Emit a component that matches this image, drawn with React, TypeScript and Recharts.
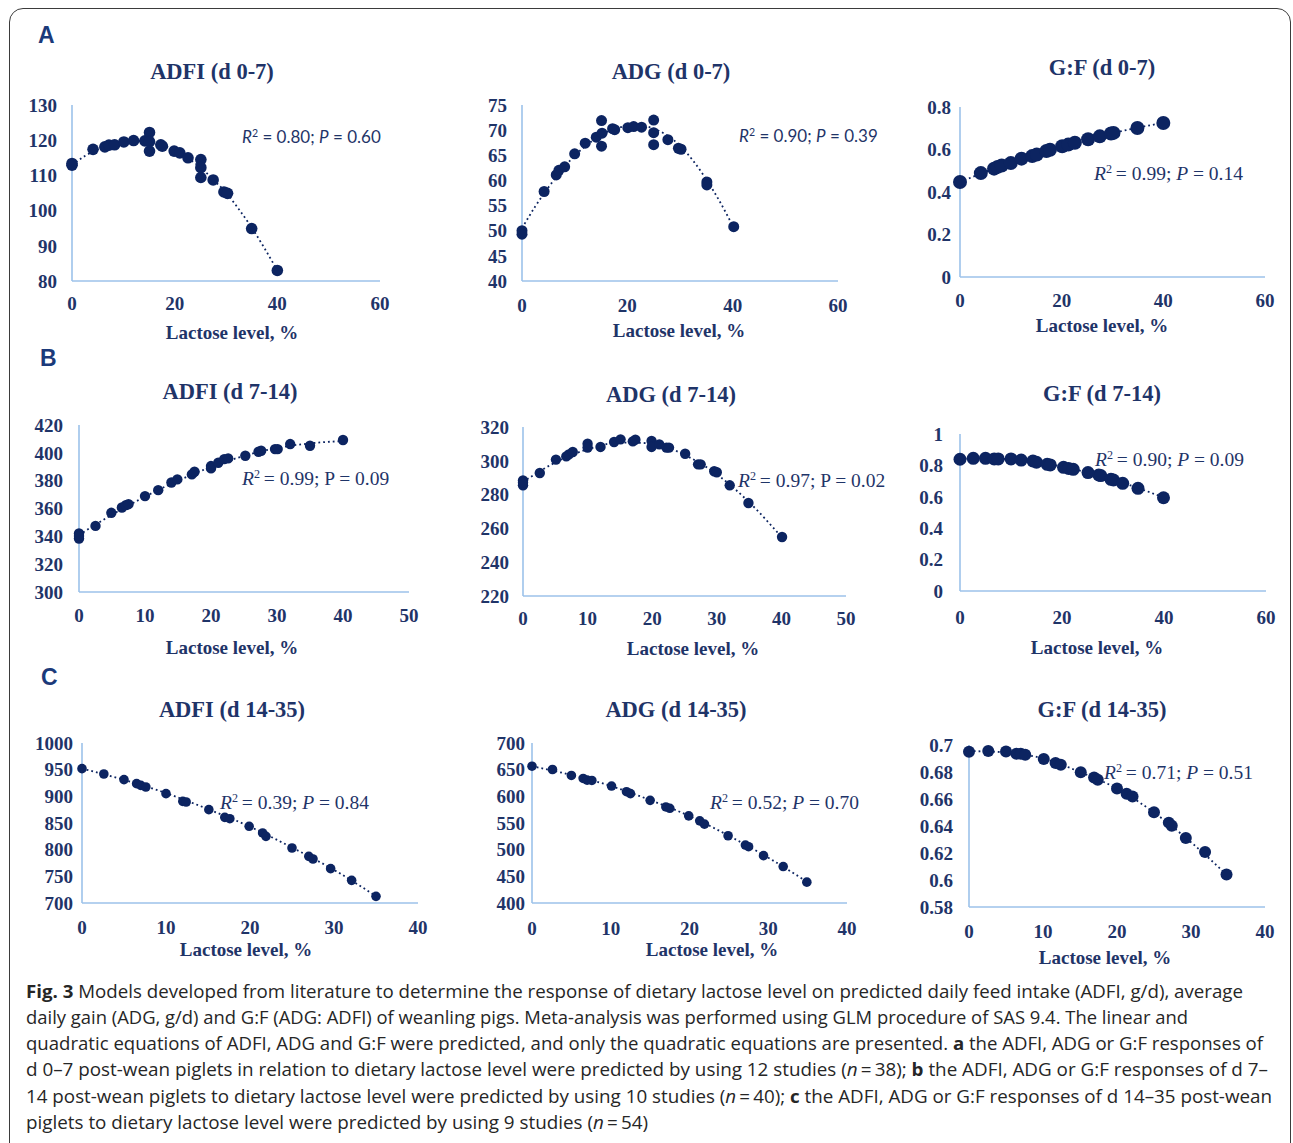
import React from "react";
import { ScatterChart, Scatter, XAxis, YAxis } from "recharts";

// ---- data (lactose %, response) ----
const adfi07Lactose = [0, 0, 4.1, 6.4, 7.2, 8.3, 10.1, 12.0, 14.2, 15.1, 15.1, 15.1, 17.3, 17.6, 19.9, 21.0, 22.6, 25.1, 25.1, 25.1, 27.5, 29.6, 30.3, 35.0, 40.0];
const adfi07Values = [112.9, 113.4, 117.4, 118.1, 118.6, 118.7, 119.5, 119.9, 119.8, 122.2, 119.6, 116.9, 118.7, 118.3, 116.9, 116.4, 115.0, 114.5, 112.2, 109.4, 108.7, 105.3, 104.9, 94.9, 83.0];
const adfi07FitLactose = [0, 2.5, 5, 7.5, 10, 12.5, 15, 17.5, 20, 22.5, 25, 27.5, 30, 32.5, 35, 37.5, 40];
const adfi07FitValues = [113.0, 115.5, 117.4, 118.7, 119.5, 119.8, 119.6, 118.6, 117.0, 114.9, 112.3, 108.8, 105.1, 100.4, 95.2, 89.3, 83.0];

const adg07Lactose = [0, 0, 4.2, 6.5, 7.0, 8.1, 10.0, 12.0, 14.1, 15.1, 15.2, 15.1, 17.2, 17.6, 20.1, 21.2, 22.7, 25.0, 25.0, 25.0, 27.7, 29.7, 30.2, 35.1, 35.1, 40.2];
const adg07Values = [50.0, 49.3, 57.8, 61.1, 62.0, 62.7, 65.3, 67.4, 68.6, 71.9, 69.4, 66.8, 70.3, 70.1, 70.5, 70.7, 70.6, 72.0, 69.5, 67.1, 68.1, 66.4, 66.2, 59.7, 59.1, 50.8];
const adg07FitLactose = [0, 2.5, 5, 7.5, 10, 12.5, 15, 17.5, 20, 22.5, 25, 27.5, 30, 32.5, 35, 37.5, 40];
const adg07FitValues = [50.5, 54.8, 58.6, 62.0, 64.9, 67.2, 69.0, 70.2, 70.8, 70.9, 70.3, 69.0, 66.9, 63.9, 60.2, 55.9, 51.0];

const gf07Lactose = [0, 4.1, 6.7, 7.4, 8.2, 10.0, 12.1, 14.2, 15.1, 17.0, 17.7, 20.1, 21.3, 22.6, 25.2, 27.5, 29.7, 30.2, 34.9, 40.0];
const gf07Values = [0.447, 0.489, 0.51, 0.518, 0.525, 0.536, 0.557, 0.569, 0.576, 0.593, 0.599, 0.615, 0.623, 0.632, 0.648, 0.662, 0.675, 0.678, 0.701, 0.725];
const gf07FitLactose = [0, 5, 10, 15, 20, 25, 30, 35, 40];
const gf07FitValues = [0.447, 0.495, 0.54, 0.579, 0.615, 0.648, 0.677, 0.703, 0.725];

const adfi714Lactose = [0, 0, 0, 2.5, 4.9, 6.5, 7.1, 7.5, 10.0, 12.0, 14.0, 14.9, 17.1, 17.5, 20.0, 20.0, 21.1, 22.0, 22.6, 25.2, 27.2, 27.6, 29.7, 30.1, 32.0, 35.0, 40.0];
const adfi714Values = [342.0, 338.4, 340.3, 347.5, 356.9, 360.7, 362.4, 363.1, 368.9, 373.2, 378.7, 380.9, 384.5, 386.4, 390.5, 388.8, 392.9, 395.5, 396.0, 397.9, 400.8, 401.5, 402.7, 402.7, 406.3, 405.1, 409.2];
const adfi714FitLactose = [0, 5, 10, 15, 20, 25, 30, 35, 40];
const adfi714FitValues = [341.0, 355.5, 368.5, 380.0, 389.8, 397.8, 403.5, 406.8, 408.5];

const adg714Lactose = [0, 0, 0, 2.6, 5.1, 6.7, 7.1, 7.7, 10.0, 10.0, 12.0, 14.1, 15.1, 17.0, 17.4, 19.9, 19.9, 21.1, 22.2, 22.6, 25.1, 27.1, 27.5, 29.6, 30.0, 32.0, 34.9, 40.1];
const adg714Values = [288.4, 285.5, 287.0, 292.8, 300.7, 302.6, 303.8, 305.2, 310.1, 307.8, 308.2, 311.1, 312.7, 311.5, 312.5, 311.7, 308.2, 309.7, 307.8, 307.8, 304.2, 297.9, 297.9, 293.8, 293.2, 285.5, 275.0, 254.9];
const adg714FitLactose = [0, 5, 10, 15, 20, 25, 30, 35, 40];
const adg714FitValues = [287.5, 299.0, 306.8, 310.8, 310.3, 303.5, 292.0, 275.5, 255.0];

const gf714Lactose = [0, 2.6, 5.0, 6.7, 7.5, 10.0, 12.0, 14.3, 15.0, 17.1, 17.7, 20.3, 21.3, 22.2, 25.1, 27.2, 27.6, 29.6, 30.1, 31.9, 34.9, 39.9];
const gf714Values = [0.839, 0.845, 0.845, 0.841, 0.841, 0.841, 0.834, 0.828, 0.82, 0.807, 0.803, 0.788, 0.781, 0.775, 0.754, 0.739, 0.735, 0.711, 0.707, 0.686, 0.654, 0.594];
const gf714FitLactose = [0, 5, 10, 15, 20, 25, 30, 35, 40];
const gf714FitValues = [0.842, 0.845, 0.838, 0.821, 0.792, 0.754, 0.708, 0.655, 0.594];

const adfi1435Lactose = [0, 2.6, 5.0, 6.5, 7.0, 7.6, 10.0, 12.0, 12.4, 15.1, 17.0, 17.6, 19.9, 21.5, 21.9, 25.0, 27.0, 27.5, 29.6, 32.1, 35.0];
const adfi1435Values = [951.9, 941.9, 931.3, 923.8, 920.6, 917.5, 905.0, 890.6, 889.4, 875.0, 860.6, 858.1, 843.8, 831.3, 825.0, 803.1, 787.5, 782.5, 764.4, 742.5, 712.5];
const adfi1435FitLactose = [0, 5, 10, 15, 20, 25, 30, 35];
const adfi1435FitValues = [952, 931, 906, 876, 843, 804, 762, 713];

const adg1435Lactose = [0, 2.6, 5.0, 6.5, 7.0, 7.6, 10.1, 12.0, 12.5, 15.0, 17.0, 17.5, 19.9, 21.3, 21.9, 24.9, 27.1, 27.5, 29.4, 31.9, 34.9];
const adg1435Values = [656.5, 650.3, 639.1, 633.5, 630.4, 629.8, 619.3, 608.7, 605.0, 592.5, 580.1, 577.6, 563.4, 554.0, 547.8, 526.1, 508.7, 505.6, 488.8, 468.3, 439.1];
const adg1435FitLactose = [0, 5, 10, 15, 20, 25, 30, 35];
const adg1435FitValues = [656.5, 640, 619.5, 593, 563, 526, 485, 439];

const gf1435Lactose = [0, 2.6, 5.0, 6.4, 7.0, 7.6, 10.1, 11.7, 12.4, 15.1, 16.9, 17.4, 20.0, 21.3, 22.1, 25.0, 27.0, 27.4, 29.3, 31.9, 34.8];
const gf1435Values = [0.695, 0.6955, 0.6952, 0.6935, 0.6935, 0.6928, 0.6897, 0.6866, 0.6853, 0.6799, 0.676, 0.6742, 0.6677, 0.6639, 0.6618, 0.6502, 0.6425, 0.6401, 0.6311, 0.6208, 0.604];
const gf1435FitLactose = [0, 5, 10, 15, 20, 25, 30, 35];
const gf1435FitValues = [0.6955, 0.6945, 0.69, 0.68, 0.6677, 0.65, 0.628, 0.603];

// ---- ticks and labels ----
const xTicks60 = [0, 20, 40, 60];
const xTicks50 = [0, 10, 20, 30, 40, 50];
const xTicks40 = [0, 10, 20, 30, 40];
const adfi07Ticks = [80, 90, 100, 110, 120, 130];
const adg07Ticks = [40, 45, 50, 55, 60, 65, 70, 75];
const gf07Ticks = [0, 0.2, 0.4, 0.6, 0.8];
const adfi714Ticks = [300, 320, 340, 360, 380, 400, 420];
const adg714Ticks = [220, 240, 260, 280, 300, 320];
const gf714Ticks = [0, 0.2, 0.4, 0.6, 0.8, 1];
const adfi1435Ticks = [700, 750, 800, 850, 900, 950, 1000];
const adg1435Ticks = [400, 450, 500, 550, 600, 650, 700];
const gf1435Ticks = [0.58, 0.6, 0.62, 0.64, 0.66, 0.68, 0.7];

const panelTitles = ["ADFI (d 0-7)", "ADG (d 0-7)", "G:F (d 0-7)", "ADFI (d 7-14)", "ADG (d 7-14)", "G:F (d 7-14)", "ADFI (d 14-35)", "ADG (d 14-35)", "G:F (d 14-35)"];
const statR2 = ["0.80", "0.90", "0.99", "0.99", "0.97", "0.90", "0.39", "0.52", "0.71"];
const statP = ["0.60", "0.39", "0.14", "0.09", "0.02", "0.09", "0.84", "0.70", "0.51"];
const xAxisTitle = "Lactose level, %";

const NAVY = "#0c2461";
const TEXT = "#1f3468";
const AXIS = "#9cc2ea";
const SERIF = "'Liberation Serif', 'Times New Roman', serif";

const pairs = (xs: number[], ys: number[]) => xs.map((x, i) => ({ x, y: ys[i] }));

const panels = [
  { pts: pairs(adfi07Lactose, adfi07Values), fit: pairs(adfi07FitLactose, adfi07FitValues), xTicks: xTicks60, yTicks: adfi07Ticks,
    x0: 72, x1: 380, y0: 105, y1: 281, r: 5.8, yGap: 15, xGap: 16, title: [212, 72], label: [232, 332], stat: [242, 136], sans: true, pIt: true },
  { pts: pairs(adg07Lactose, adg07Values), fit: pairs(adg07FitLactose, adg07FitValues), xTicks: xTicks60, yTicks: adg07Ticks,
    x0: 522, x1: 838, y0: 105, y1: 281, r: 5.5, yGap: 15, xGap: 18, title: [671, 72], label: [679, 330], stat: [739, 135], sans: true, pIt: true },
  { pts: pairs(gf07Lactose, gf07Values), fit: pairs(gf07FitLactose, gf07FitValues), xTicks: xTicks60, yTicks: gf07Ticks,
    x0: 960, x1: 1265, y0: 107, y1: 277, r: 7, yGap: 9, xGap: 17, title: [1102, 68], label: [1102, 325], stat: [1094, 173], sans: false, pIt: true },
  { pts: pairs(adfi714Lactose, adfi714Values), fit: pairs(adfi714FitLactose, adfi714FitValues), xTicks: xTicks50, yTicks: adfi714Ticks,
    x0: 79, x1: 409, y0: 425, y1: 592, r: 5.2, yGap: 16, xGap: 17, title: [230, 392], label: [232, 647], stat: [242, 478], sans: false, pIt: false },
  { pts: pairs(adg714Lactose, adg714Values), fit: pairs(adg714FitLactose, adg714FitValues), xTicks: xTicks50, yTicks: adg714Ticks,
    x0: 523, x1: 846, y0: 427, y1: 596, r: 5.2, yGap: 14, xGap: 16, title: [671, 395], label: [693, 648], stat: [738, 480], sans: false, pIt: false },
  { pts: pairs(gf714Lactose, gf714Values), fit: pairs(gf714FitLactose, gf714FitValues), xTicks: xTicks60, yTicks: gf714Ticks,
    x0: 960, x1: 1266, y0: 434, y1: 591, r: 6.5, yGap: 17, xGap: 20, title: [1102, 394], label: [1097, 647], stat: [1095, 459], sans: false, pIt: true },
  { pts: pairs(adfi1435Lactose, adfi1435Values), fit: pairs(adfi1435FitLactose, adfi1435FitValues), xTicks: xTicks40, yTicks: adfi1435Ticks,
    x0: 82, x1: 418, y0: 743, y1: 903, r: 4.8, yGap: 9, xGap: 18, title: [232, 710], label: [246, 949], stat: [220, 802], sans: false, pIt: true },
  { pts: pairs(adg1435Lactose, adg1435Values), fit: pairs(adg1435FitLactose, adg1435FitValues), xTicks: xTicks40, yTicks: adg1435Ticks,
    x0: 532, x1: 847, y0: 743, y1: 903, r: 4.8, yGap: 7, xGap: 19, title: [676, 710], label: [712, 949], stat: [710, 802], sans: false, pIt: true },
  { pts: pairs(gf1435Lactose, gf1435Values), fit: pairs(gf1435FitLactose, gf1435FitValues), xTicks: xTicks40, yTicks: gf1435Ticks,
    x0: 969, x1: 1265, y0: 745, y1: 907, r: 6, yGap: 16, xGap: 18, title: [1102, 710], label: [1105, 957], stat: [1104, 772], sans: false, pIt: true },
];

const Y_W = 80;
const PAD_T = 12;
const PAD_R = 24;
const X_H = 40;

const tickStyle = { fill: TEXT, fontSize: 19, fontWeight: 700, fontFamily: SERIF };

function Panel({ p, i }: { p: (typeof panels)[number]; i: number }) {
  const w = p.x1 - p.x0 + Y_W + PAD_R;
  const h = p.y1 - p.y0 + PAD_T + X_H;
  const xMax = p.xTicks[p.xTicks.length - 1];
  const yDom: [number, number] = [p.yTicks[0], p.yTicks[p.yTicks.length - 1]];
  const dot = (props: any) => <circle cx={props.cx} cy={props.cy} r={p.r} fill={NAVY} />;
  const statFont = p.sans
    ? { fontFamily: "Lato, 'Open Sans', sans-serif", fontSize: 17 }
    : { fontFamily: SERIF, fontSize: 19.5 };
  return (
    <>
      <div style={{ position: "absolute", left: p.x0 - Y_W, top: p.y0 - PAD_T }}>
        <ScatterChart width={w} height={h} margin={{ top: PAD_T, right: PAD_R, left: 0, bottom: 0 }} style={{ overflow: "visible" }}>
          <XAxis type="number" dataKey="x" domain={[0, xMax]} ticks={p.xTicks} interval={0} height={X_H}
            axisLine={{ stroke: AXIS, strokeWidth: 1.6 }} tickLine={false} tickSize={0} tickMargin={p.xGap} tick={tickStyle} />
          <YAxis type="number" dataKey="y" domain={yDom} ticks={p.yTicks} interval={0} width={Y_W}
            axisLine={{ stroke: AXIS, strokeWidth: 1.6 }} tickLine={false} tickSize={0} tickMargin={p.yGap} tick={tickStyle} />
          <Scatter data={p.fit} line={{ stroke: NAVY, strokeWidth: 1.8, strokeDasharray: "1.8 3" }} lineJointType="monotoneX"
            shape={() => <g />} isAnimationActive={false} />
          <Scatter data={p.pts} shape={dot} isAnimationActive={false} />
        </ScatterChart>
      </div>
      <div style={{ position: "absolute", left: p.title[0], top: p.title[1], transform: "translate(-50%, -50%)", whiteSpace: "nowrap",
        fontFamily: SERIF, fontWeight: 700, fontSize: 22.5, color: TEXT, lineHeight: 1 }}>{panelTitles[i]}</div>
      <div style={{ position: "absolute", left: p.label[0], top: p.label[1], transform: "translate(-50%, -50%)", whiteSpace: "nowrap",
        fontFamily: SERIF, fontWeight: 700, fontSize: 19, color: TEXT, lineHeight: 1 }}>{xAxisTitle}</div>
      <div style={{ position: "absolute", left: p.stat[0], top: p.stat[1], transform: "translateY(-50%)", whiteSpace: "nowrap",
        color: TEXT, lineHeight: 1, ...statFont }}>
        <i>R</i><span style={{ fontSize: "0.62em", verticalAlign: "0.55em" }}>2</span>
        {p.sans ? " = " : "\u2009= "}{statR2[i]}; {p.pIt ? <i>P</i> : "P"} = {statP[i]}
      </div>
    </>
  );
}

const captionLines: React.ReactNode[] = [
  <><tspan fontWeight={700}>Fig. 3</tspan> Models developed from literature to determine the response of dietary lactose level on predicted daily feed intake (ADFI, g/d), average</>,
  <>daily gain (ADG, g/d) and G:F (ADG: ADFI) of weanling pigs. Meta-analysis was performed using GLM procedure of SAS 9.4. The linear and</>,
  <>quadratic equations of ADFI, ADG and G:F were predicted, and only the quadratic equations are presented. <tspan fontWeight={700}>a</tspan> the ADFI, ADG or G:F responses of</>,
  <>d 0–7 post-wean piglets in relation to dietary lactose level were predicted by using 12 studies (<tspan fontStyle="italic">n</tspan>{"\u2009=\u2009"}38); <tspan fontWeight={700}>b</tspan> the ADFI, ADG or G:F responses of d 7–</>,
  <>14 post-wean piglets to dietary lactose level were predicted by using 10 studies (<tspan fontStyle="italic">n</tspan>{"\u2009=\u2009"}40); <tspan fontWeight={700}>c</tspan> the ADFI, ADG or G:F responses of d 14–35 post-wean</>,
  <>piglets to dietary lactose level were predicted by using 9 studies (<tspan fontStyle="italic">n</tspan>{"\u2009=\u2009"}54)</>,
];
const captionEnds = [1243, 1188, 1263, 1268, 1272, 648];
const captionBase = [998, 1024, 1050, 1076, 1103, 1129];

export default function App() {
  return (
    <div style={{ position: "relative", width: 1293, height: 1143, overflow: "hidden", background: "#fff" }}>
      <style>{"body{margin:0}"}</style>
      <div style={{ position: "absolute", left: 9, top: 8, width: 1280, height: 1170, border: "1.5px solid #3b3b3b", borderRadius: 14 }} />
      {[["A", 38, 35], ["B", 40, 358], ["C", 41, 677]].map(([t, x, y]) => (
        <div key={t as string} style={{ position: "absolute", left: x as number, top: y as number, transform: "translateY(-50%)",
          fontFamily: "'Liberation Sans', Arial, sans-serif", fontWeight: 700, fontSize: 23, color: "#1b3a7a", lineHeight: 1 }}>{t}</div>
      ))}
      {panels.map((p, i) => <Panel key={i} p={p} i={i} />)}
      <svg style={{ position: "absolute", left: 0, top: 0 }} width={1293} height={1143}>
        {captionLines.map((line, i) => (
          <text key={i} x={26} y={captionBase[i]} textLength={captionEnds[i] - 26} lengthAdjust="spacingAndGlyphs"
            fontFamily="'Open Sans', 'Noto Sans', sans-serif" fontSize={17.5} fill="#262626">{line}</text>
        ))}
      </svg>
    </div>
  );
}
